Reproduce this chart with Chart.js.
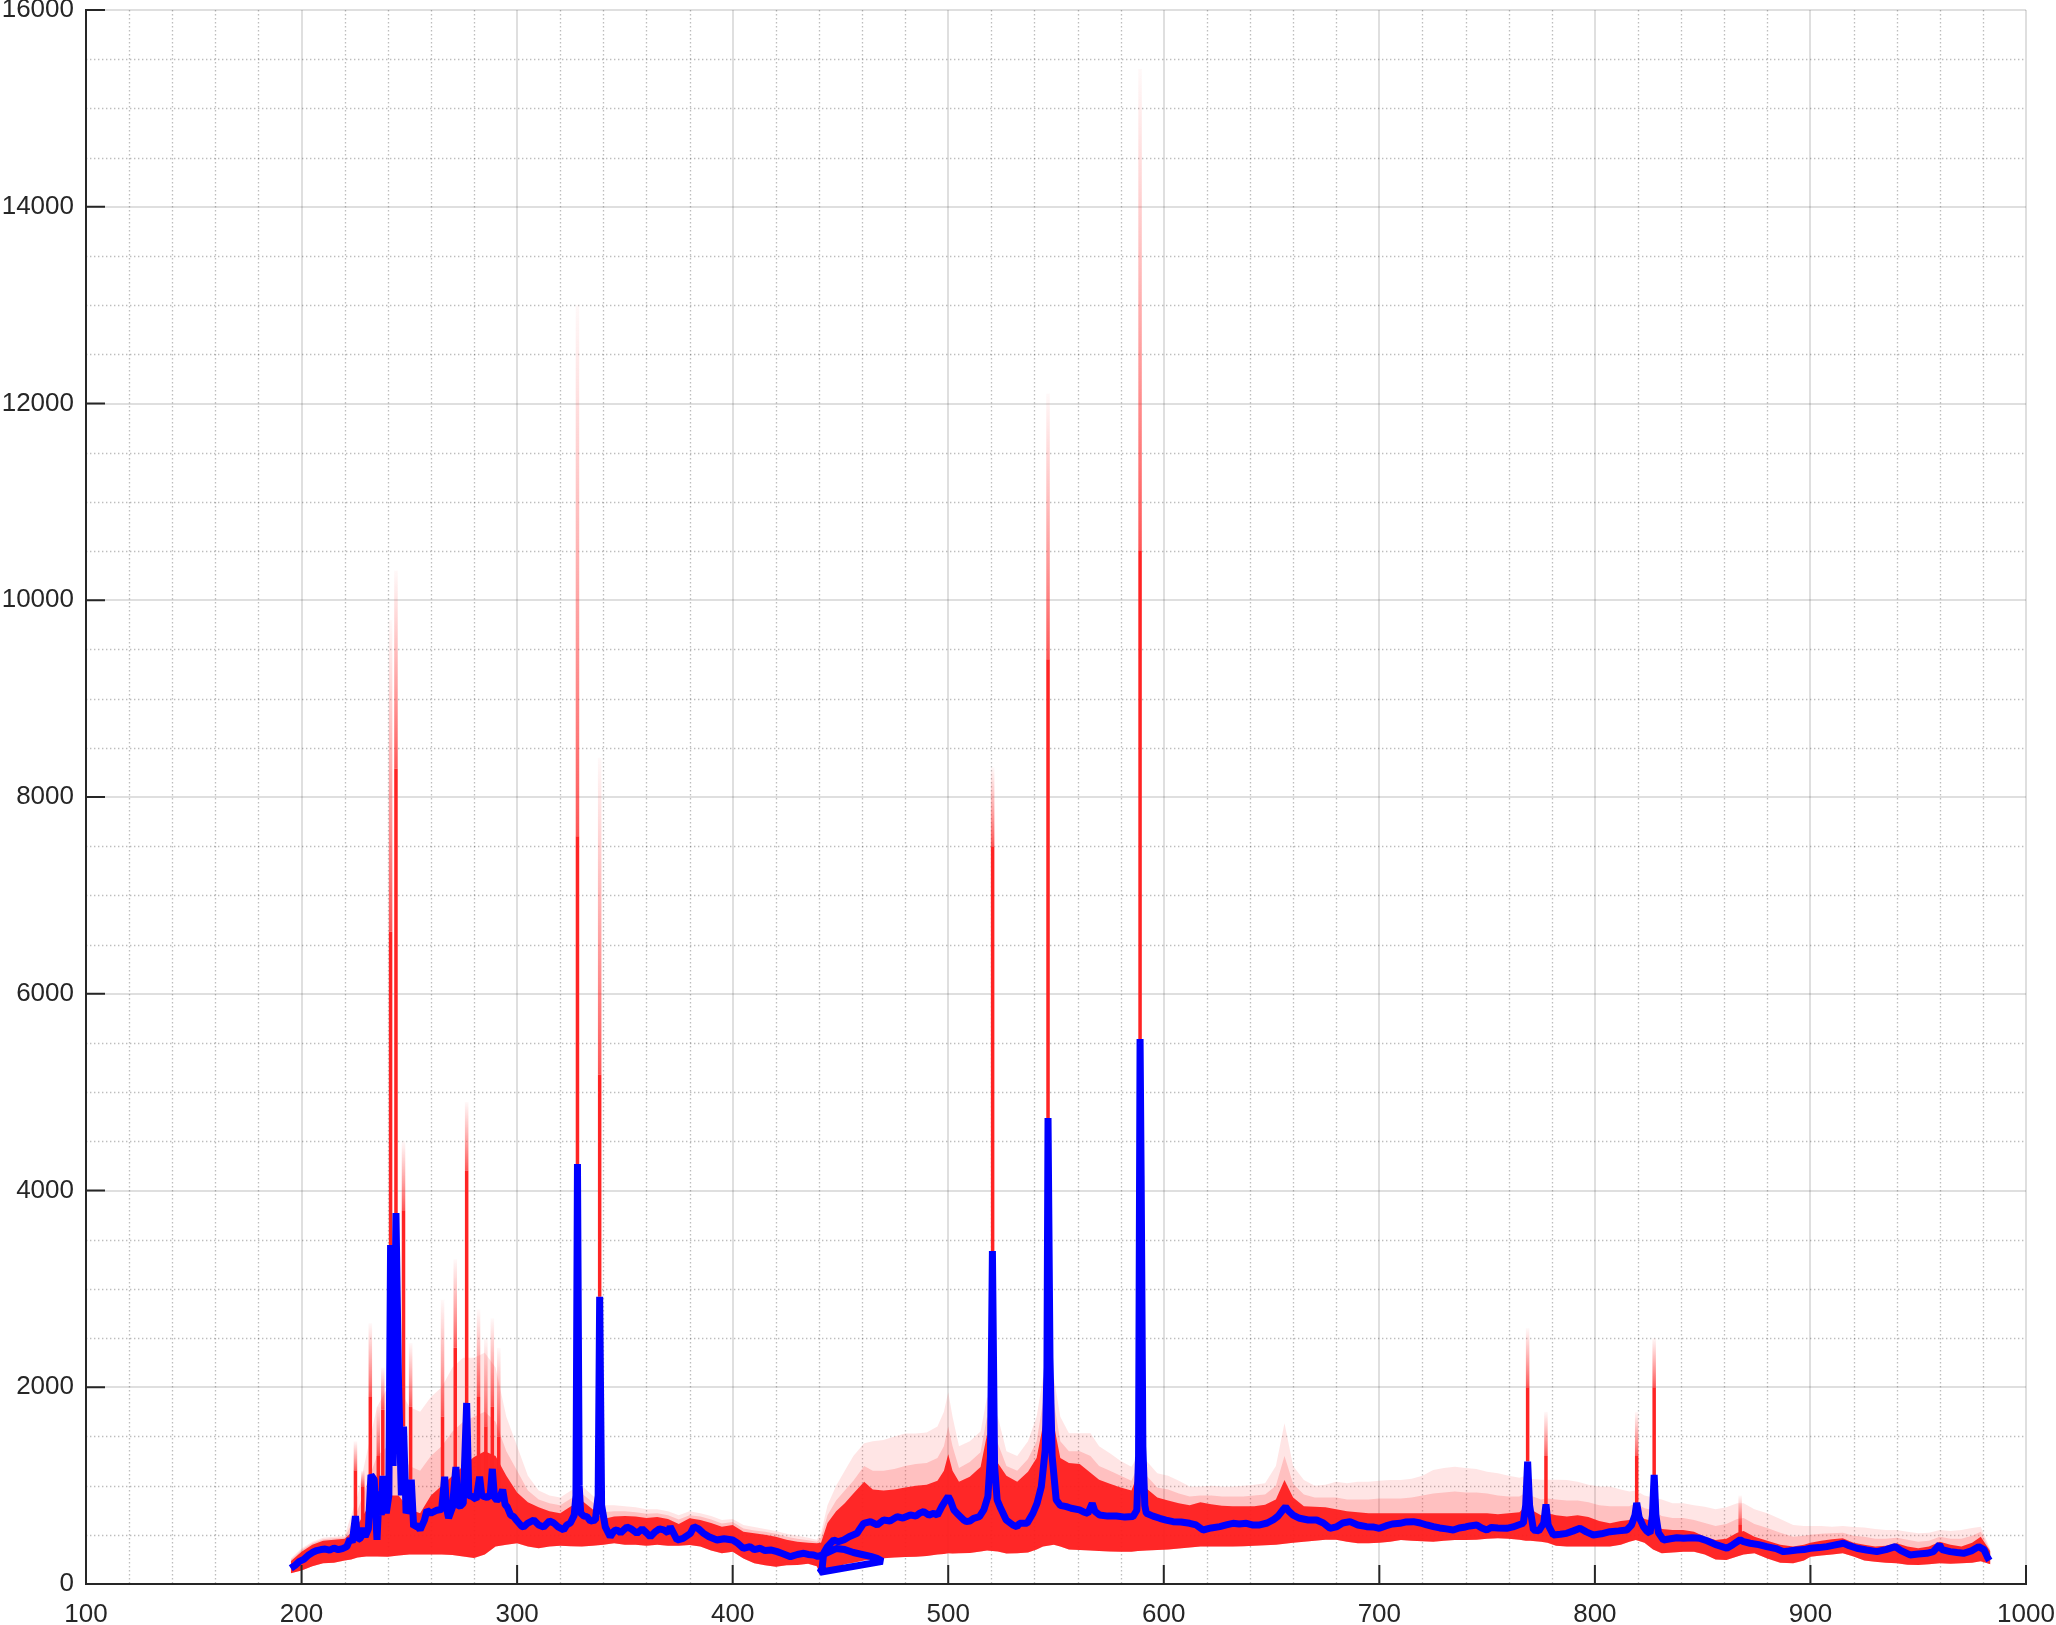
<!DOCTYPE html>
<html><head><meta charset="utf-8">
<script src="https://cdn.jsdelivr.net/npm/chart.js@4.4.1/dist/chart.umd.min.js"></script>
<style>html,body{margin:0;padding:0;background:#fff;overflow:hidden}canvas{display:block}</style>
</head><body>
<canvas id="c" width="2056" height="1625"></canvas>
<script>
// ---------- axis ticks ----------
const xTickVals = [100,200,300,400,500,600,700,800,900,1000];
const yTickVals = [0,2000,4000,6000,8000,10000,12000,14000,16000];

// ---------- mean spectrum (blue): channel 1 (195-470 nm) followed by channel 2 (440-983 nm) ----------
const meanWl = [
195,197,199,201,203,205,207,209,211,213,
215,217,219,221,222.5,223.5,225,226,227.5,228.3,
229.5,231,232.2,233.7,235,236,237,237.7,239.3,240.5,
241.3,242.5,243.8,245,246.3,247.3,248.5,250,250.9,252,
253.5,255,257,258.2,260,262.8,265,266.4,267.2,268.2,
270,271.6,272.6,273.6,275,276.6,277.6,279,281,282.6,
283.6,284.5,286,287.5,288.5,289.5,290.6,292,293.3,294.5,
295.3,297,298.4,300,302,303,305,307.7,310,312.3,
315,317,319,321.6,323,324.7,326.5,327.3,328,328.8,
329.5,331,332.4,334,336.3,337.6,338.3,339.2,340.9,343.2,
345,346.3,348,350.9,353,355.6,358,360,361.8,364,
366,368,370,371,372.5,374.2,377,380.4,382,384.2,
386.5,389,392.7,396,400,402,405,408,410,412.8,
415,418,420.6,423,426.8,430,433,435,437.6,439.5,
442,445,448,452,456,460,464,467,469.5,440.5,
441.5,442.2,444,446.9,449,451.5,454,457.7,459,460.8,
463.9,467,470,473,476.3,479,482.4,485,486.7,488.6,
491,493.3,495,497,498.8,500,501,502.6,504,507.2,
508.4,510,511.8,514.5,516.5,518.4,519.6,520.5,521.5,522.7,
524,526.9,530,531.9,533.1,536.6,539.3,541.2,543.2,545,
545.8,546.3,547.2,548.2,550.1,552,554.8,557,560.9,563,
564.8,566.8,568,570.2,574,578,582,585.7,587.5,588.3,
589,589.5,590.3,591.2,591.9,595,598.1,601,604.3,608,
612,615,618.2,622,626,629,632.1,635,638.3,641,
644.5,648,650.7,653,655.5,656.5,658,660,663,667,
670.9,674,677.1,680,683,686.4,690,694.1,697,700,
703,706,709.6,712,715.8,719,722,725.1,728,731,
734.3,737,740,742,745.2,747.5,749.8,752,755,759.1,
762,764.5,766.8,767.9,768.8,769.7,771.5,774,776.3,777.3,
778.3,780.7,784,786.9,790,793.1,796,799.3,803,807,
811,814.8,817,818.6,819.4,820.5,822.5,824,825.6,826.7,
827.5,828.3,829.5,831.8,835,838,841.1,845,848.8,852,
856.5,859,861.2,864,867.4,869,872,876,879.7,884,
887.5,890,893.7,897,900,904,907.6,911,915.3,918,
921.5,926,930.8,935,939.3,942,946.2,950,954,957,
959.9,961,964.8,968,971,975,978,980.5,982,983
];
const meanVal = [
160,190,230,250,290,320,340,350,355,345,
365,350,360,380,460,420,690,450,470,570,
480,560,1110,1060,450,940,700,1100,720,900,
3445,1200,3770,2030,900,1600,720,800,1060,580,
600,550,650,750,720,750,760,1090,780,670,
780,1190,800,790,820,1840,900,890,860,1090,
900,890,880,900,1170,880,850,880,960,800,
790,700,685,640,590,580,620,650,600,580,
640,620,580,550,600,620,700,900,4270,1000,
720,690,685,640,650,900,2920,800,580,480,
540,550,520,580,560,515,560,520,480,530,
560,550,520,583,520,447,464,515,583,560,
515,480,447,460,447,420,363,380,350,363,
340,345,329,310,278,300,312,300,295,280,
300,330,360,350,320,300,280,260,230,120,
160,312,380,447,430,447,480,515,560,617,
634,600,651,640,685,670,702,690,720,736,
700,719,700,786,850,892,850,753,719,651,
634,640,668,685,753,888,1300,3385,1200,854,
786,651,600,583,617,617,719,820,990,1363,
2200,4736,2300,1300,854,800,786,770,753,730,
719,820,740,702,690,692,680,685,750,1300,
5540,4150,1400,800,719,690,668,650,634,630,
617,600,549,570,583,600,617,610,617,600,
600,620,651,690,760,786,740,700,668,651,
651,620,566,580,620,634,600,583,580,566,
590,610,617,630,634,620,600,583,570,560,
549,570,580,590,600,570,549,575,570,566,
580,600,617,800,1244,800,549,540,620,810,
600,498,505,515,540,566,530,498,510,532,
540,549,600,700,824,680,583,540,515,700,
1109,700,520,447,460,470,464,470,464,440,
397,380,363,400,450,430,414,400,380,360,
329,335,346,350,363,370,380,395,414,390,
363,345,329,350,380,340,295,305,312,330,
400,350,329,320,312,340,380,350,278,240
];

// ---------- spread of the individual spectra (red): dense core, mid haze, faint upper envelope ----------
const bandWl = [
195,200,205,210,215,220,223,226,230,235,
240,245,250,255,260,265,270,275,280,285,
290,295,300,305,310,315,320,325,330,335,
340,345,350,355,360,365,370,375,380,385,
390,395,400,405,410,415,420,425,430,435,
439,441,444,448,452,456,461,465,470,475,
480,485,490,495,498,500,502,505,510,515,
518,523,527,532,537,541,544,549,552,556,
561,566,570,575,580,585,588,592,597,602,
607,612,617,622,627,632,637,642,647,652,
656,660,665,670,675,680,685,690,695,700,
705,710,715,720,725,730,735,740,745,750,
755,760,765,768,770,775,778,782,787,792,
797,802,807,812,816,819,823,827,831,836,
841,846,851,856,861,866,869,874,880,886,
892,897,900,905,910,915,920,925,930,935,
940,945,950,955,960,965,970,975,979,983.5
];
const denseLo = [
110,136,180,210,215,240,250,270,280,280,
278,290,300,300,300,300,295,280,265,300,
380,400,414,380,363,380,390,385,380,390,
400,414,400,400,390,400,390,390,397,380,
340,312,329,260,210,190,176,190,193,205,
180,90,130,170,200,215,240,250,261,270,
275,278,285,300,305,312,310,312,315,330,
340,330,310,312,320,350,380,400,380,350,
346,340,335,330,329,329,335,340,346,350,
360,370,380,380,380,380,385,390,395,400,
410,420,430,440,450,450,430,414,414,420,
430,447,440,435,430,440,447,447,450,460,
464,460,450,440,440,430,420,390,380,380,
380,380,380,400,430,447,420,350,312,320,
329,329,300,250,244,280,300,312,260,215,
210,240,278,290,300,312,280,240,227,215,
210,195,193,200,210,205,210,215,230,200
];
const denseHi = [
230,329,400,440,450,460,520,600,750,850,
900,900,760,720,900,1000,1100,1200,1290,1350,
1300,1100,930,830,780,740,720,790,850,760,
660,685,690,685,670,680,660,610,668,650,
620,583,600,530,515,500,481,450,430,420,
414,420,620,740,820,920,1040,960,950,960,
980,1000,1010,1050,1150,1320,1150,1040,1090,1190,
1520,1230,1100,1040,1140,1280,1620,1620,1280,1230,
1220,1130,1060,1020,980,950,1120,970,880,850,
820,800,830,810,795,790,790,790,805,860,
1058,880,790,786,780,760,740,730,719,719,
719,719,719,719,719,719,719,719,719,719,
710,719,730,800,760,700,720,700,685,700,
680,640,617,640,651,720,660,640,560,549,
549,530,480,447,460,520,540,480,440,400,
380,400,420,440,455,464,420,400,380,390,
414,380,363,380,430,400,380,420,481,330
];
const midHi = [
245,345,415,455,465,475,600,750,1000,1300,
1400,1400,1200,1150,1300,1400,1550,1650,1700,1750,
1650,1350,1150,950,860,820,800,870,920,830,
730,740,740,730,715,720,700,655,700,685,
655,615,630,565,545,530,510,480,460,445,
430,470,700,850,950,1050,1200,1150,1150,1170,
1200,1220,1230,1280,1400,1600,1400,1180,1240,1340,
1700,1430,1200,1150,1270,1450,1850,1850,1450,1350,
1350,1300,1200,1150,1100,1050,1200,1100,980,960,
920,890,900,900,890,890,890,900,910,1000,
1300,1020,910,880,880,880,860,860,860,870,
870,870,880,900,920,930,940,930,930,920,
900,890,890,930,900,860,870,860,850,850,
830,800,790,790,790,820,770,750,690,670,
670,650,620,590,610,660,670,610,570,520,
480,490,500,510,515,520,490,480,460,460,
470,450,430,440,480,460,460,490,530,340
];
const faintHi = [
260,360,430,470,480,490,700,900,1300,1800,
2000,2000,1800,1750,1900,2000,2200,2300,2300,2350,
2200,1700,1400,1100,950,900,880,950,1000,900,
800,800,790,780,760,760,740,700,740,720,
690,650,660,600,580,560,540,510,490,470,
450,520,800,1000,1150,1300,1430,1450,1465,1500,
1530,1530,1540,1600,1750,1950,1700,1400,1450,1550,
1900,1700,1350,1300,1450,1700,2100,2100,1700,1532,
1532,1532,1400,1329,1250,1193,1300,1250,1125,1100,
1050,990,990,1000,990,990,1000,1010,1024,1200,
1634,1200,1058,1000,1010,1040,1024,1040,1040,1050,
1058,1058,1070,1100,1160,1180,1193,1180,1170,1140,
1125,1100,1080,1100,1070,1060,1060,1060,1058,1040,
1010,990,990,960,940,950,900,880,860,820,
820,800,786,760,780,820,820,760,720,660,
600,590,590,590,583,590,580,575,560,549,
549,530,515,520,549,540,549,570,583,350
];

// ---------- emission lines: individual spectra reaching far above the mean ----------
const spikeWl    = [225,228.4,231.9,235.6,237.7,241.3,243.8,247.3,250.6,265.4,271.3,276.6,282.1,285.5,288.5,291.5,328,338.3,520.6,546.3,589,768.8,777.3,819.4,827.5,867.4];
const spikeBase  = [690,570,1000,900,1100,3445,3770,1600,1060,1000,1190,1840,1090,1000,1170,900,4270,2920,3385,4736,5540,1244,810,824,1109,450];
const spikeSolid = [1150,990,1900,1300,1770,6630,8290,3800,1800,1700,2400,4200,1900,1600,1800,1500,7600,5180,7500,9400,10500,2000,1300,1300,2000,600];
const spikeFaint = [1450,1150,2650,1800,2200,9800,10300,4500,2450,2890,3300,4900,2790,2500,2700,2400,13000,8400,8300,12100,15400,2600,1750,1750,2500,900];

// ---------- build chart data ----------
const pts = (xs, ys) => xs.map((x, i) => ({x, y: ys[i]}));
const spikePts = (lo, hi) => {
  const out = [];
  spikeWl.forEach((x, i) => { out.push({x, y: lo[i]}, {x, y: hi[i]}, {x, y: null}); });
  return out;
};
const c2d = document.getElementById('c').getContext('2d');
const FONT = "'Liberation Sans', Arial, sans-serif";
const AX = '#262626';

const guides = {
  id: 'guides',
  beforeDatasetsDraw(chart) {
    const {ctx, chartArea: a, scales: {x, y}} = chart;
    ctx.save();
    ctx.strokeStyle = 'rgba(38,38,38,0.3)';
    ctx.lineWidth = 1.3;
    ctx.setLineDash([1.4, 2.6]);
    for (let v = x.min; v <= x.max; v += 20) {
      if (v % 100 === 0) continue;
      const p = Math.round(x.getPixelForValue(v)) + 0.5;
      ctx.beginPath(); ctx.moveTo(p, a.top); ctx.lineTo(p, a.bottom); ctx.stroke();
    }
    for (let v = y.min; v <= y.max; v += 500) {
      if (v % 2000 === 0) continue;
      const p = Math.round(y.getPixelForValue(v)) + 0.5;
      ctx.beginPath(); ctx.moveTo(a.left, p); ctx.lineTo(a.right, p); ctx.stroke();
    }
    ctx.restore();
  },
  afterDraw(chart) {
    const {ctx, chartArea: a, scales: {x, y}} = chart;
    ctx.save();
    ctx.strokeStyle = AX; ctx.lineWidth = 2;
    xTickVals.forEach(v => {
      const p = x.getPixelForValue(v);
      ctx.beginPath(); ctx.moveTo(p, a.bottom); ctx.lineTo(p, a.bottom - 19); ctx.stroke();
    });
    yTickVals.forEach(v => {
      const p = y.getPixelForValue(v);
      ctx.beginPath(); ctx.moveTo(a.left, p); ctx.lineTo(a.left + 19, p); ctx.stroke();
    });
    ctx.restore();
  }
};

const noLine = { borderWidth: 0, borderColor: 'transparent', pointRadius: 0 };

new Chart(c2d, {
  type: 'line',
  data: {
    datasets: [
      { label: 'lo', data: pts(bandWl, denseLo), ...noLine, fill: false, order: 9 },
      { label: 'core', data: pts(bandWl, denseHi), ...noLine, fill: '-1', backgroundColor: 'rgba(255,28,28,0.93)', order: 3 },
      { label: 'haze', data: pts(bandWl, midHi), ...noLine, fill: '-2', backgroundColor: 'rgba(255,40,40,0.2)', order: 4 },
      { label: 'envelope', data: pts(bandWl, faintHi), ...noLine, fill: '-3', backgroundColor: 'rgba(255,40,40,0.12)', order: 5 },
      { label: 'spikeFaint', data: spikePts(spikeSolid, spikeFaint), borderWidth: 3.5, pointRadius: 0, spanGaps: false,
        borderColor: 'rgba(255,40,40,0.3)', borderCapStyle: 'butt', order: 2,
        segment: { borderColor: s => {
          const g = c2d.createLinearGradient(0, s.p0.y, 0, s.p1.y);
          g.addColorStop(0, 'rgba(255,30,30,0.75)');
          g.addColorStop(1, 'rgba(255,60,60,0.03)');
          return g;
        } } },
      { label: 'spikeSolid', data: spikePts(spikeBase, spikeSolid), borderWidth: 3.5, pointRadius: 0, spanGaps: false,
        borderColor: '#ff2424', borderCapStyle: 'butt', order: 1 },
      { label: 'mean', data: pts(meanWl, meanVal), borderWidth: 7, borderColor: '#0000ff', pointRadius: 0,
        borderJoinStyle: 'bevel', tension: 0, fill: false, order: 0 }
    ]
  },
  options: {
    responsive: false,
    animation: false,
    devicePixelRatio: 1,
    events: [],
    layout: { padding: { top: 10, right: 30, left: 0, bottom: 0 } },
    plugins: { legend: { display: false }, tooltip: { enabled: false } },
    scales: {
      x: {
        type: 'linear', min: 100, max: 1000,
        afterFit: s => { s.height = 41; s.paddingLeft = 0; s.paddingRight = 0; },
        ticks: { stepSize: 100, autoSkip: false, maxRotation: 0, color: AX, padding: 21,
                 font: { family: FONT, size: 26, lineHeight: 0.75 }, callback: v => String(v) },
        grid: { color: 'rgba(38,38,38,0.15)', lineWidth: 2, drawTicks: false },
        border: { display: true, color: AX, width: 2 }
      },
      y: {
        type: 'linear', min: 0, max: 16000,
        afterFit: s => { s.width = 86; s.paddingTop = 0; s.paddingBottom = 0; },
        ticks: { stepSize: 2000, autoSkip: false, color: AX, padding: 12,
                 font: { family: FONT, size: 26, lineHeight: 0.75 }, callback: v => String(v) },
        grid: { color: 'rgba(38,38,38,0.15)', lineWidth: 2, drawTicks: false },
        border: { display: true, color: AX, width: 2 }
      }
    }
  },
  plugins: [guides]
});
</script>
</body></html>
